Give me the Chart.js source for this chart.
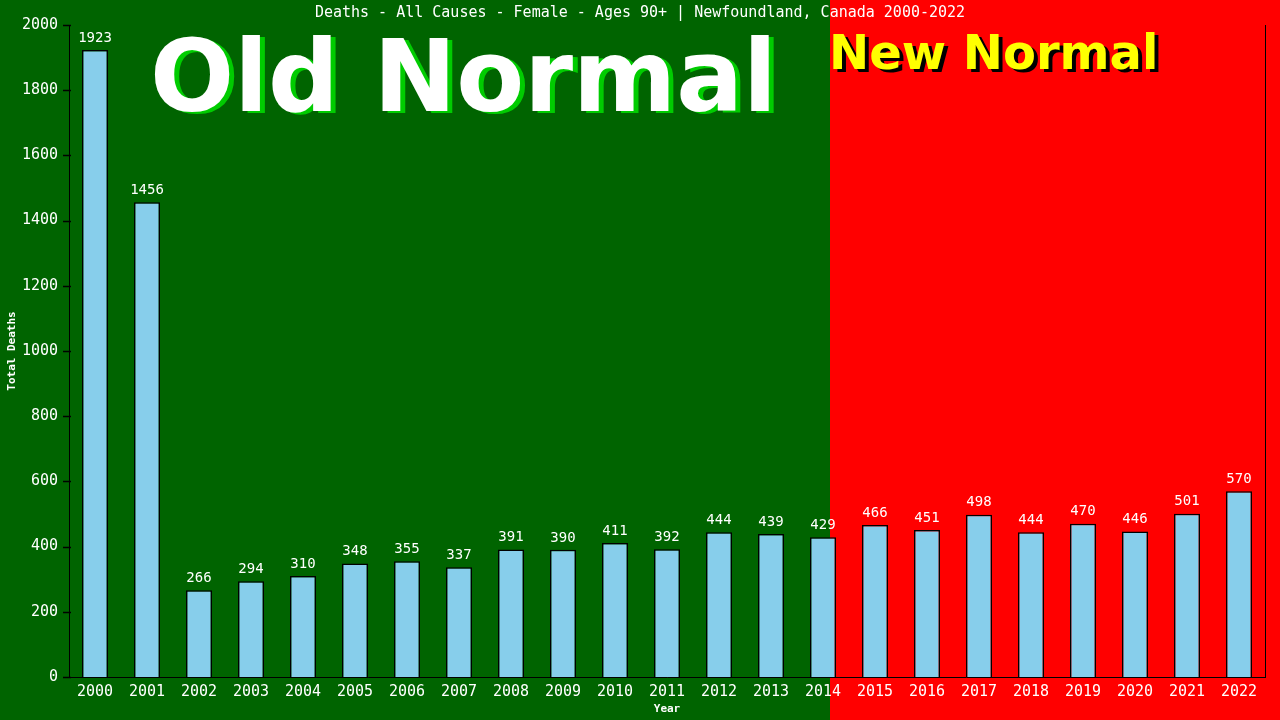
<!DOCTYPE html>
<html>
<head>
<title>Deaths - All Causes - Female - Ages 90+</title>
<script src="https://cdn.jsdelivr.net/npm/chart.js@4.4.1/dist/chart.umd.min.js"></script>
<style>
html, body { margin: 0; padding: 0; background: #006000; }
.chart-container { width: 1280px; height: 720px; position: relative; }
</style>
</head>
<body>
<div class="chart-container">
  <canvas id="deathsChart"></canvas>
</div>
<script>
// data
var years = ["2000","2001","2002","2003","2004","2005","2006","2007","2008","2009","2010","2011",
             "2012","2013","2014","2015","2016","2017","2018","2019","2020","2021","2022"];
var deaths = [1923, 1456, 266, 294, 310, 348, 355, 337, 391, 390, 411, 392,
              444, 439, 429, 466, 451, 498, 444, 470, 446, 501, 570];
var yTicks = [0, 200, 400, 600, 800, 1000, 1200, 1400, 1600, 1800, 2000];

var titleText = "Deaths - All Causes - Female - Ages 90+ | Newfoundland, Canada 2000-2022";
var mono = "'DejaVu Sans Mono', 'Liberation Mono', monospace";

// background halves + big labels
var backdrop = {
  id: "backdrop",
  beforeDraw: function(chart) {
    var ctx = chart.ctx;
    var w = chart.width, h = chart.height;
    var split = 830;
    ctx.save();
    ctx.fillStyle = "#006400";
    ctx.fillRect(0, 0, split, h);
    ctx.fillStyle = "#ff0000";
    ctx.fillRect(split, 0, w - split, h);

    ctx.font = "bold 99px 'DejaVu Sans', sans-serif";
    ctx.textBaseline = "alphabetic";
    ctx.textAlign = "left";
    ctx.fillStyle = "#00cc00";
    ctx.fillText("Old Normal", 155, 113);
    ctx.fillStyle = "#ffffff";
    ctx.fillText("Old Normal", 150, 111);

    ctx.font = "bold 48px 'DejaVu Sans', sans-serif";
    ctx.fillStyle = "#000000";
    ctx.fillText("New Normal", 833, 72);
    ctx.fillStyle = "#ffff00";
    ctx.fillText("New Normal", 829, 69);

    ctx.font = "15px " + mono;
    ctx.textAlign = "center";
    ctx.textBaseline = "middle";
    ctx.fillStyle = "#ffffff";
    ctx.fillText(titleText, 640, 13);
    ctx.restore();
  },
  afterDatasetsDraw: function(chart) {
    var ctx = chart.ctx;
    var area = chart.chartArea;
    var meta = chart.getDatasetMeta(0);
    ctx.save();
    // right border line
    ctx.strokeStyle = "#000000";
    ctx.lineWidth = 1;
    ctx.beginPath();
    ctx.moveTo(area.right + 0.5, area.top);
    ctx.lineTo(area.right + 0.5, area.bottom);
    ctx.stroke();
    // y tick marks
    var yScale = chart.scales.y;
    ctx.lineWidth = 1.5;
    yTicks.forEach(function(v) {
      var py = Math.round(yScale.getPixelForValue(v)) + 0.5;
      ctx.beginPath();
      ctx.moveTo(area.left - 6, py);
      ctx.lineTo(area.left + 2, py);
      ctx.stroke();
    });
    // value labels
    ctx.font = "14px " + mono;
    ctx.fillStyle = "#ffffff";
    ctx.textAlign = "center";
    ctx.textBaseline = "bottom";
    meta.data.forEach(function(bar, i) {
      ctx.fillText(String(deaths[i]), bar.x, bar.y - 5);
    });
    ctx.restore();
  }
};

var ctx = document.getElementById("deathsChart");

var chart = new Chart(ctx, {
  type: "bar",
  data: {
    labels: years,
    datasets: [{
      label: "Total Deaths",
      data: deaths,
      backgroundColor: "#87ceeb",
      borderColor: "#000000",
      borderWidth: 1.5,
      barPercentage: 0.5,
      categoryPercentage: 1.0
    }]
  },
  options: {
    responsive: true,
    maintainAspectRatio: false,
    animation: false,
    layout: { padding: { top: 25, right: 15, left: 6, bottom: 4 } },
    plugins: {
      legend: { display: false },
      tooltip: { enabled: false }
    },
    scales: {
      x: {
        grid: { display: true, drawOnChartArea: false, drawTicks: false },
        border: { display: true, color: "#000000", width: 1 },
        ticks: { color: "#ffffff", font: { family: mono, size: 15 }, padding: 6, maxRotation: 0 },
        title: { display: true, text: "Year", color: "#ffffff",
                 font: { family: mono, size: 11, weight: "bold" }, padding: { top: 2, bottom: 0 } },
        afterFit: function(scale) { scale.height = 39; }
      },
      y: {
        min: 0,
        max: 2000,
        afterBuildTicks: function(scale) {
          scale.ticks = yTicks.map(function(v) { return { value: v }; });
        },
        grid: { display: false },
        border: { display: true, color: "#000000", width: 1 },
        ticks: {
          color: "#ffffff", font: { family: mono, size: 15 }, padding: 3,
          callback: function(v) { return String(v); }
        },
        title: { display: true, text: "Total Deaths", color: "#ffffff",
                 font: { family: mono, size: 11, weight: "bold" }, padding: { top: 0, bottom: 2 } },
        afterFit: function(scale) { scale.width = 63; }
      }
    }
  },
  plugins: [backdrop]
});
</script>
</body>
</html>
